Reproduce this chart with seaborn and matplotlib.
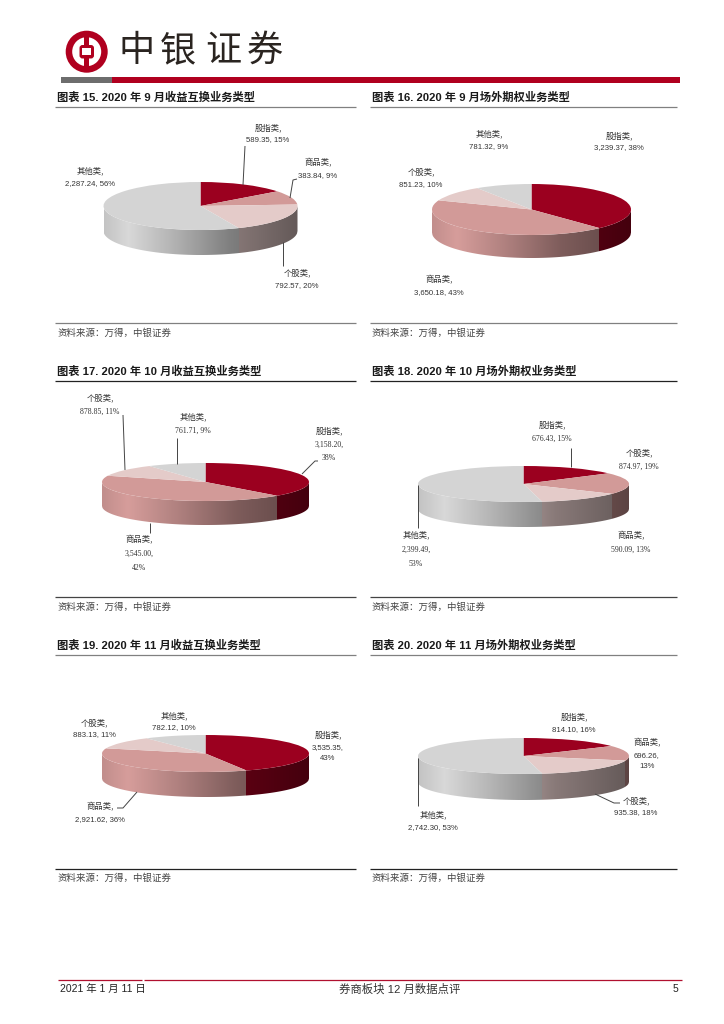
import numpy as np
import matplotlib
matplotlib.use('Agg')
import matplotlib.pyplot as plt
from matplotlib.patches import Circle, Rectangle, Polygon, FancyBboxPatch
import seaborn as sns

# chart values, slices listed clockwise from 12 o'clock
names_15 = ['股指类', '商品类', '个股类', '其他类']
values_15 = [589.35, 383.84, 792.57, 2287.24]
pct_15 = [15, 9, 20, 56]

names_16 = ['股指类', '商品类', '个股类', '其他类']
values_16 = [3239.37, 3650.18, 851.23, 781.32]
pct_16 = [38, 43, 10, 9]

names_17 = ['股指类', '商品类', '个股类', '其他类']
values_17 = [3158.20, 3545.00, 878.85, 761.71]
pct_17 = [38, 42, 11, 9]

names_18 = ['股指类', '个股类', '商品类', '其他类']
values_18 = [676.43, 874.97, 590.09, 2399.49]
pct_18 = [15, 19, 13, 53]

names_19 = ['股指类', '商品类', '个股类', '其他类']
values_19 = [3535.35, 2921.62, 883.13, 782.12]
pct_19 = [43, 36, 11, 10]

names_20 = ['股指类', '商品类', '个股类', '其他类']
values_20 = [814.10, 696.26, 935.38, 2742.30]
pct_20 = [16, 13, 18, 53]

titles = ['图表 15. 2020 年 9 月收益互换业务类型', '图表 16. 2020 年 9 月场外期权业务类型',
          '图表 17. 2020 年 10 月收益互换业务类型', '图表 18. 2020 年 10 月场外期权业务类型',
          '图表 19. 2020 年 11 月收益互换业务类型', '图表 20. 2020 年 11 月场外期权业务类型']
source_text = '资料来源：万得，中银证券'
footer_left = '2021 年 1 月 11 日'
footer_mid = '券商板块 12 月数据点评'
footer_page = '5'

W, H = 724, 1024
sns.set_theme(style='white')
plt.rcParams['font.family'] = ['Liberation Sans', 'Noto Sans CJK SC']
serif = ['Liberation Serif', 'Noto Sans CJK SC']
cjk = ['Noto Sans CJK SC', 'DejaVu Sans']

pie_colors = sns.color_palette(['#9b001f', '#d29a98', '#e4cbc9', '#d4d4d4'])
text_col = '#333333'

# layout in page pixels: pie centre x, y, radii, wall height, then label spots
layout = [
    dict(names=names_15, values=values_15, pct=pct_15, cx=200.5, cy=206, rx=97, ry=24, d=25, font=None,
         spots=[(268, [128, 140]), (318, [163, 176]), (297, [273, 286]), (90, [171, 184])],
         leaders=[[(245, 146), (243, 185)], [(297, 179), (293, 180), (290, 198)], [(283, 242), (283, 266)]]),
    dict(names=names_16, values=values_16, pct=pct_16, cx=531.5, cy=209.5, rx=99.5, ry=25.5, d=23, font=None,
         spots=[(619, [136, 148]), (439, [280, 293]), (421, [172, 185]), (489, [134, 147])],
         leaders=[]),
    dict(names=names_17, values=values_17, pct=pct_17, cx=205.5, cy=482, rx=103.5, ry=19, d=24, font=serif,
         spots=[(329, [431, 445, 458]), (139, [540, 554, 568]), (100, [398, 412]), (193, [417, 431])],
         leaders=[[(123, 415), (125, 470)], [(177, 438), (177, 464)],
                  [(318, 461), (315, 461), (302, 474)], [(150, 523), (150, 533)]]),
    dict(names=names_18, values=values_18, pct=pct_18, cx=523.5, cy=484, rx=105.5, ry=18, d=25, font=serif,
         spots=[(552, [425, 439]), (639, [453, 467]), (631, [536, 550]), (416, [535, 550, 564])],
         leaders=[[(571, 448), (571, 467)], [(418, 485), (418, 528)]]),
    dict(names=names_19, values=values_19, pct=pct_19, cx=205.5, cy=753.5, rx=103.5, ry=18.5, d=25, font=None,
         spots=[(328, [735, 748, 759]), (100, [807, 820]), (94, [723, 735]), (174, [716, 728])],
         leaders=[[(137, 792), (123, 808), (117, 808)]]),
    dict(names=names_20, values=values_20, pct=pct_20, cx=523.5, cy=756, rx=105.5, ry=18, d=26, font=None,
         spots=[(574, [717, 730]), (647, [743, 756, 767]), (636, [801, 813]), (433, [815, 828])],
         leaders=[[(418, 758), (418, 806)], [(595, 794), (614, 803), (620, 803)]]),
]

fig = plt.figure(figsize=(W / 100, H / 100), dpi=100)
page = fig.add_axes([0, 0, 1, 1], zorder=3)
page.set_xlim(0, W)
page.set_ylim(H, 0)
page.axis('off')
page.patch.set_alpha(0)


def draw_pie(spec):
    cx, cy, rx, ry, d = spec['cx'], spec['cy'], spec['rx'], spec['ry'], spec['d']
    ax = fig.add_axes([(cx - rx) / W, 1 - (cy + ry + d) / H, 2 * rx / W, (2 * ry + d) / H], zorder=1)
    ax.pie(spec['values'], colors=pie_colors, startangle=90, counterclock=False,
           radius=1, wedgeprops=dict(linewidth=0))
    ax.set_aspect('auto')
    low = -1 - d / ry
    ax.set_xlim(-1, 1)
    ax.set_ylim(low, 1)

    # front wall: one row of columns, each coloured by the slice above it
    xs = np.linspace(-1, 1, 400)
    edges = np.cumsum(spec['values']) / np.sum(spec['values'])
    frac = (np.pi - np.arcsin(xs)) / (2 * np.pi)
    owner = np.clip(np.searchsorted(edges, frac), 0, 3)
    shade = np.interp(xs, [-1, -0.75, -0.3, 0.3, 1], [0.92, 1.02, 0.85, 0.6, 0.44])
    rgb = np.clip(np.array(pie_colors)[owner] * shade[:, None], 0, 1)
    img = ax.imshow(rgb[None, :, :], extent=(-1, 1, low, 0), aspect='auto', zorder=0, interpolation='nearest')
    arc = -np.sqrt(1 - xs ** 2)
    outline = np.r_[np.c_[xs, arc], np.c_[xs[::-1], arc[::-1] - d / ry]]
    wall = Polygon(outline, closed=True, transform=ax.transData, facecolor='none', edgecolor='none')
    ax.add_patch(wall)
    img.set_clip_path(wall)
    ax.set_xlim(-1, 1)
    ax.set_ylim(low, 1)
    ax.axis('off')

    # labels
    for name, val, pct, (x, ys) in zip(spec['names'], spec['values'], spec['pct'], spec['spots']):
        lines = [f'{name},', f'{val:,.2f}, {pct}%']
        if len(ys) == 3:
            lines = [f'{name},', f'{val:,.2f},', f'{pct}%']
        for i, (line, y) in enumerate(zip(lines, ys)):
            if i == 0:
                page.text(x, y, line, ha='center', va='center', fontsize=6.0, color=text_col, family=cjk)
            else:
                page.text(x, y, line, ha='center', va='center', fontsize=5.6, color=text_col,
                          family=spec['font'] or ['Liberation Sans'])
    for pts in spec['leaders']:
        page.plot(*zip(*pts), color='#444444', lw=0.7, solid_capstyle='butt')


for spec in layout:
    draw_pie(spec)

# section titles, rules and source lines
col_x = [(55, 356), (370, 677)]
row_y = [(97, 107, 323, 333), (371, 381, 597, 607), (645, 655, 869, 878)]
rule_style = [('#808080', '#808080'), ('#222222', '#444444'), ('#808080', '#222222')]
for k, title in enumerate(titles):
    r, c = k // 2, k % 2
    x0, x1 = col_x[c]
    ty, top, bot, sy = row_y[r]
    page.text(x0 + 2, ty, title, ha='left', va='center', fontsize=8.1, fontweight='bold', color='#1a1a1a')
    page.plot([x0, x1], [top, top], color=rule_style[r][0], lw=0.9, solid_capstyle='butt')
    page.plot([x0, x1], [bot, bot], color=rule_style[r][1], lw=0.9, solid_capstyle='butt')
    page.text(x0 + 2, sy, source_text, ha='left', va='center', fontsize=6.8, color='#444444', family=cjk)

# header band and logo
page.add_patch(Rectangle((61, 76.7), 51, 6, color='#6d6d6d', lw=0))
page.add_patch(Rectangle((112, 76.7), 568, 6, color='#b0001f', lw=0))
logo_red = '#b0001f'
page.add_patch(Circle((86.7, 51.7), 21, color=logo_red, lw=0))
page.add_patch(Circle((86.7, 51.7), 14.5, color='white', lw=0))
page.add_patch(Rectangle((84.3, 32), 4.8, 40, color=logo_red, lw=0))
page.add_patch(FancyBboxPatch((79.5, 45), 14.5, 13.5, boxstyle='round,pad=0,rounding_size=3', color=logo_red, lw=0))
page.add_patch(Rectangle((82, 48), 9.4, 7.2, color='white', lw=0))
for ch, x in zip('中银证券', [137, 178, 223, 265]):
    page.text(x, 51, ch, ha='center', va='center', fontsize=26, fontweight='medium', color='#2a2420', family=cjk)

# footer
page.plot([58, 142], [979.5, 979.5], color='#b0102f', lw=0.9, solid_capstyle='butt')
page.plot([144, 682], [979.5, 979.5], color='#b0102f', lw=0.9, solid_capstyle='butt')
page.text(60.5, 989, footer_left, ha='left', va='center', fontsize=7.5, color='#222222')
page.text(400, 989, footer_mid, ha='center', va='center', fontsize=8.2, color='#333333')
page.text(678, 989, footer_page, ha='right', va='center', fontsize=7.5, color='#222222')

fig.savefig('out.png', dpi=100, facecolor='white')
